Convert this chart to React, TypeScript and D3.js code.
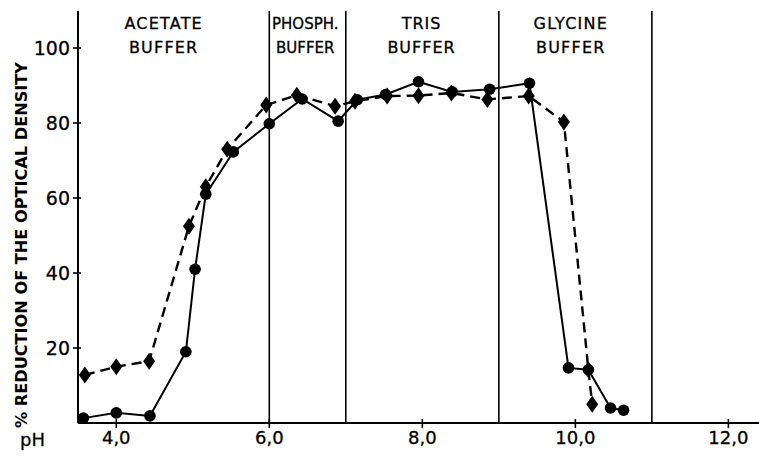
import React from "react";
import * as d3 from "d3";

const circleSeries: [number, number][] = [
  [3.57, 1.3], [4.0, 2.7], [4.44, 1.9], [4.91, 19], [5.03, 41], [5.17, 61],
  [5.53, 72.3], [6.0, 79.8], [6.43, 86.4], [6.9, 80.5], [7.15, 86.2], [7.52, 87.6],
  [7.95, 91], [8.39, 88.3], [8.88, 89], [9.4, 90.6], [9.91, 14.7], [10.17, 14.2],
  [10.46, 4], [10.63, 3.4],
];
const diamondSeries: [number, number][] = [
  [3.59, 12.8], [4.0, 15], [4.43, 16.5], [4.95, 52.5], [5.17, 63], [5.45, 73],
  [5.96, 84.8], [6.36, 87.4], [6.86, 84.5], [7.12, 85.8], [7.54, 87.2], [7.95, 87.3],
  [8.38, 88], [8.85, 86.3], [9.39, 87.2], [9.85, 80.3], [10.17, 14.2], [10.22, 5],
];
const bufferBounds = [6.0, 7.0, 9.0, 11.0];
const bufferLabels = [
  { x: 4.62, lines: ["ACETATE", "BUFFER"], spacing: 1.2 },
  { x: 6.47, lines: ["PHOSPH.", "BUFFER"], spacing: 0 },
  { x: 7.99, lines: ["TRIS", "BUFFER"], spacing: 1 },
  { x: 9.94, lines: ["GLYCINE", "BUFFER"], spacing: 1.2 },
];
const xTicks = [4, 6, 8, 10, 12];
const yTicks = [20, 40, 60, 80, 100];
const yLabel = "% REDUCTION OF THE OPTICAL DENSITY";

const W = 759, H = 457;
const x = d3.scaleLinear().domain([3.5, 12.4]).range([78, 759]);
const y = d3.scaleLinear().domain([0, 100]).range([423, 48]);

const fmt = (v: number) => v.toFixed(1).replace(".", ",");
const FONT = "'DejaVu Sans', sans-serif";

export default function App() {
  const line = d3.line<[number, number]>().x(d => x(d[0])).y(d => y(d[1]));
  const diamond = (cx: number, cy: number) =>
    `M${cx},${cy - 8.5} L${cx + 6},${cy} L${cx},${cy + 8.5} L${cx - 6},${cy} Z`;
  return (
    <svg width={W} height={H} style={{ position: "absolute", left: 0, top: 0, background: "#fff" }}>
      <line x1={x(3.5)} x2={x(3.5)} y1={11} y2={y(0)} stroke="#000" strokeWidth={2} />
      <line x1={x(3.5)} x2={W} y1={y(0)} y2={y(0)} stroke="#000" strokeWidth={2} />
      {bufferBounds.map(b => (
        <line key={b} x1={x(b)} x2={x(b)} y1={11} y2={y(0)} stroke="#000" strokeWidth={1.6} />
      ))}
      {yTicks.map(t => (
        <g key={t}>
          <line x1={x(3.5) - 5} x2={x(3.5) + 3} y1={y(t)} y2={y(t)} stroke="#000" strokeWidth={1.6} />
          <text x={x(3.5) - 8} y={y(t)} dy="0.36em" textAnchor="end" fontSize={19} fontFamily={FONT}
            stroke="#000" strokeWidth={0.3}>{t}</text>
        </g>
      ))}
      {xTicks.map(t => (
        <g key={t}>
          <line x1={x(t)} x2={x(t)} y1={y(0) - 4} y2={y(0) + 5} stroke="#000" strokeWidth={1.6} />
          <text x={x(t)} y={444} textAnchor="middle" fontSize={18} fontFamily={FONT}
            stroke="#000" strokeWidth={0.3}>{fmt(t)}</text>
        </g>
      ))}
      <text x={20} y={446} fontSize={18} fontFamily={FONT} stroke="#000" strokeWidth={0.3}>pH</text>
      <text transform="translate(27,245) rotate(-90)" textAnchor="middle" fontSize={16}
        fontFamily={FONT} fontWeight="bold" textLength={366} lengthAdjust="spacingAndGlyphs">{yLabel}</text>
      {bufferLabels.map(l => (
        <g key={l.lines[0]}>
          {l.lines.map((s, i) => (
            <text key={i} x={x(l.x)} y={29 + i * 24} textAnchor="middle" fontSize={l.spacing ? 16 : 15}
              letterSpacing={l.spacing} fontFamily={FONT} stroke="#000" strokeWidth={0.3}>{s}</text>
          ))}
        </g>
      ))}
      <path d={line(diamondSeries) || ""} fill="none" stroke="#000" strokeWidth={2.4} strokeDasharray="10,6" />
      <path d={line(circleSeries) || ""} fill="none" stroke="#000" strokeWidth={2} />
      {diamondSeries.map((d, i) => (
        <path key={i} d={diamond(x(d[0]), y(d[1]))} fill="#000" />
      ))}
      {circleSeries.map((d, i) => (
        <circle key={i} cx={x(d[0])} cy={y(d[1])} r={5.8} fill="#000" />
      ))}
    </svg>
  );
}
